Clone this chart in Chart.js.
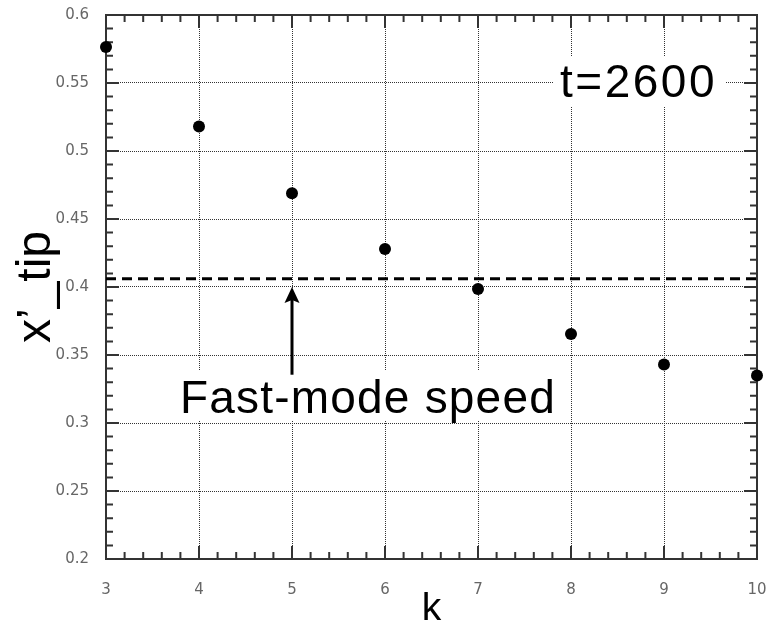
<!DOCTYPE html>
<html>
<head>
<meta charset="utf-8">
<script src="https://cdn.jsdelivr.net/npm/chart.js@4"></script>
<style>
  html, body { margin: 0; padding: 0; background: #fff; }
  canvas { display: block; }
</style>
</head>
<body>
<canvas id="tipChart" width="769" height="625"></canvas>
<script>
// data
const kValues = [3, 4, 5, 6, 7, 8, 9, 10];
const tipValues = [0.5765, 0.518, 0.469, 0.428, 0.3985, 0.3655, 0.343, 0.335];
const fastModeK = [3, 10];
const fastModeSpeed = 0.406;
const xTickValues = [3, 4, 5, 6, 7, 8, 9, 10];
const yTickLabels = ['0.2', '0.25', '0.3', '0.35', '0.4', '0.45', '0.5', '0.55', '0.6'];

const bigFont = "'Liberation Sans', Arial, sans-serif";

// frame, minor ticks, annotations
const decorations = {
    id: 'decorations',
    beforeDatasetsDraw(chart) {
        const { ctx, chartArea: a } = chart;
        const xs = chart.scales.x, ys = chart.scales.y;
        ctx.save();

        // white boxes behind the labels
        ctx.fillStyle = '#fff';
        ctx.fillRect(553, 56, 172, 50);
        ctx.fillRect(175, 370, 384, 51);

        ctx.fillStyle = '#000';
        ctx.textAlign = 'left';
        ctx.textBaseline = 'alphabetic';
        ctx.font = '46px ' + bigFont;
        ctx.letterSpacing = '2.5px';
        ctx.fillText('t=2600', 560, 97);
        ctx.letterSpacing = '1.2px';
        ctx.fillText('Fast-mode speed', 180, 413);
        ctx.letterSpacing = '0px';

        // axis titles
        ctx.textAlign = 'center';
        ctx.font = '39px ' + bigFont;
        ctx.fillText('k', (a.left + a.right) / 2, 620);
        ctx.save();
        ctx.translate(50, (a.top + a.bottom) / 2);
        ctx.rotate(-Math.PI / 2);
        ctx.font = '48px ' + bigFont;
        ctx.fillText('x\u2019_tip', 0, 0);
        ctx.restore();

        // frame
        ctx.strokeStyle = '#333';
        ctx.lineWidth = 2;
        ctx.strokeRect(a.left, a.top, a.right - a.left, a.bottom - a.top);

        // ticks on all four sides
        ctx.beginPath();
        for (let i = 0; i <= 35; i++) {
            const v = 3 + i * 0.2;
            const px = xs.getPixelForValue(v);
            const len = i % 5 === 0 ? 13 : 7;
            ctx.moveTo(px, a.bottom); ctx.lineTo(px, a.bottom - len);
            ctx.moveTo(px, a.top); ctx.lineTo(px, a.top + len);
        }
        for (let i = 0; i <= 40; i++) {
            const v = 0.2 + i * 0.01;
            const py = ys.getPixelForValue(v);
            const len = i % 5 === 0 ? 13 : 7;
            ctx.moveTo(a.left, py); ctx.lineTo(a.left + len, py);
            ctx.moveTo(a.right, py); ctx.lineTo(a.right - len, py);
        }
        ctx.stroke();

        // arrow pointing at the fast-mode line
        const ax = xs.getPixelForValue(5);
        const tip = ys.getPixelForValue(0.4);
        const tail = ys.getPixelForValue(0.3355);
        ctx.strokeStyle = '#000';
        ctx.lineWidth = 3;
        ctx.beginPath();
        ctx.moveTo(ax, tail);
        ctx.lineTo(ax, tip + 12);
        ctx.stroke();
        ctx.fillStyle = '#000';
        ctx.beginPath();
        ctx.moveTo(ax, tip);
        ctx.lineTo(ax - 7.5, tip + 16);
        ctx.lineTo(ax, tip + 13);
        ctx.lineTo(ax + 7.5, tip + 16);
        ctx.closePath();
        ctx.fill();

        ctx.restore();
    }
};

function noPadding(s) {
    s.paddingLeft = 0;
    s.paddingRight = 0;
    s.paddingTop = 0;
    s.paddingBottom = 0;
}

const ctx = document.getElementById('tipChart').getContext('2d');
new Chart(ctx, {
    type: 'scatter',
    data: {
        datasets: [{
            data: kValues.map((k, i) => ({ x: k, y: tipValues[i] })),
            backgroundColor: '#000',
            borderWidth: 0,
            pointRadius: 6,
            clip: false
        }, {
            type: 'line',
            data: fastModeK.map(k => ({ x: k, y: fastModeSpeed })),
            borderColor: '#000',
            borderWidth: 3,
            borderDash: [10, 6],
            pointRadius: 0,
            fill: false
        }]
    },
    options: {
        responsive: false,
        animation: false,
        layout: { padding: { top: 15, right: 12, left: 0, bottom: 0 } },
        plugins: {
            legend: { display: false },
            tooltip: { enabled: false }
        },
        scales: {
            x: {
                type: 'linear',
                min: 3,
                max: 10,
                afterBuildTicks: s => { s.ticks = xTickValues.map(v => ({ value: v })); },
                afterFit: s => { s.height = 66; noPadding(s); },
                ticks: {
                    color: '#666',
                    font: { family: "'DejaVu Sans'", size: 15 },
                    padding: 22,
                    maxRotation: 0,
                    callback: v => String(v)
                },
                grid: { color: '#333', lineWidth: 1, drawTicks: false },
                border: { display: false, dash: [1, 1] }
            },
            y: {
                type: 'linear',
                min: 0.2,
                max: 0.6,
                afterBuildTicks: s => { s.ticks = yTickLabels.map(t => ({ value: Number(t) })); },
                afterFit: s => { s.width = 106; noPadding(s); },
                ticks: {
                    color: '#666',
                    font: { family: "'DejaVu Sans'", size: 15 },
                    padding: 17,
                    callback: (v, i) => yTickLabels[i]
                },
                grid: { color: '#333', lineWidth: 1, drawTicks: false },
                border: { display: false, dash: [1, 1] }
            }
        }
    },
    plugins: [decorations]
});
</script>
</body>
</html>
